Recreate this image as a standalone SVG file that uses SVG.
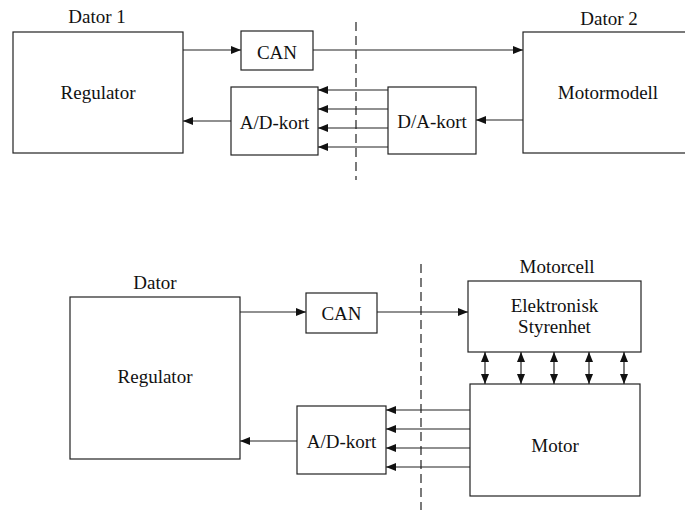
<svg xmlns="http://www.w3.org/2000/svg" width="685" height="510" viewBox="0 0 685 510">
<style>
.box{fill:#fff;stroke:#222;stroke-width:1.2}
.ln{stroke:#222;stroke-width:1.2;fill:none}
.dash{stroke:#222;stroke-width:1.2;stroke-dasharray:9,5;fill:none}
text{font-family:"Liberation Serif","Times New Roman",serif;font-size:19px;fill:#111;text-anchor:middle}
</style>
<defs>
<marker id="ah" markerWidth="10" markerHeight="8" refX="10" refY="4" orient="auto" markerUnits="userSpaceOnUse"><path d="M0,0 L10,4 L0,8 z" fill="#111"/></marker>
<marker id="as" markerWidth="10" markerHeight="8" refX="0" refY="4" orient="auto" markerUnits="userSpaceOnUse"><path d="M10,0 L0,4 L10,8 z" fill="#111"/></marker>
</defs>
<g id="connectors">
<line class="ln" x1="183" y1="50" x2="241" y2="50" marker-end="url(#ah)"/>
<line class="ln" x1="313" y1="50" x2="523" y2="50" marker-end="url(#ah)"/>
<line class="ln" x1="231" y1="121" x2="183" y2="121" marker-end="url(#ah)"/>
<line class="ln" x1="523" y1="120" x2="476" y2="120" marker-end="url(#ah)"/>
<line class="ln" x1="388" y1="90" x2="318" y2="90" marker-end="url(#ah)"/>
<line class="ln" x1="388" y1="109" x2="318" y2="109" marker-end="url(#ah)"/>
<line class="ln" x1="388" y1="128" x2="318" y2="128" marker-end="url(#ah)"/>
<line class="ln" x1="388" y1="147" x2="318" y2="147" marker-end="url(#ah)"/>
<line class="dash" x1="356" y1="22" x2="356" y2="180"/>
<line class="ln" x1="240" y1="312" x2="306" y2="312" marker-end="url(#ah)"/>
<line class="ln" x1="377" y1="312" x2="468" y2="312" marker-end="url(#ah)"/>
<line class="ln" x1="297" y1="441" x2="240" y2="441" marker-end="url(#ah)"/>
<line class="ln" x1="470" y1="410" x2="386" y2="410" marker-end="url(#ah)"/>
<line class="ln" x1="470" y1="429" x2="386" y2="429" marker-end="url(#ah)"/>
<line class="ln" x1="470" y1="448" x2="386" y2="448" marker-end="url(#ah)"/>
<line class="ln" x1="470" y1="467" x2="386" y2="467" marker-end="url(#ah)"/>
<line class="ln" x1="485" y1="352" x2="485" y2="384" marker-start="url(#as)" marker-end="url(#ah)"/>
<line class="ln" x1="521" y1="352" x2="521" y2="384" marker-start="url(#as)" marker-end="url(#ah)"/>
<line class="ln" x1="554" y1="352" x2="554" y2="384" marker-start="url(#as)" marker-end="url(#ah)"/>
<line class="ln" x1="589" y1="352" x2="589" y2="384" marker-start="url(#as)" marker-end="url(#ah)"/>
<line class="ln" x1="624" y1="352" x2="624" y2="384" marker-start="url(#as)" marker-end="url(#ah)"/>
<line class="dash" x1="421" y1="264" x2="421" y2="510"/>
</g>
<g id="regulator1"><rect class="box" x="13" y="32" width="170" height="121"/><text x="98" y="99">Regulator</text><text x="97" y="23">Dator 1</text></g>
<g id="can1"><rect class="box" x="241" y="31" width="72" height="39"/><text x="277" y="59">CAN</text></g>
<g id="ad1"><rect class="box" x="231" y="87" width="87" height="68"/><text x="274.5" y="129">A/D-kort</text></g>
<g id="da1"><rect class="box" x="388" y="87" width="88" height="67"/><text x="432" y="128">D/A-kort</text></g>
<g id="motormodell"><rect class="box" x="523" y="32" width="170" height="121"/><text x="608" y="99">Motormodell</text><text x="609" y="25">Dator 2</text></g>
<g id="regulator2"><rect class="box" x="70" y="297" width="170" height="162"/><text x="155" y="383">Regulator</text><text x="155" y="289">Dator</text></g>
<g id="can2"><rect class="box" x="306" y="293" width="71" height="40"/><text x="341.5" y="320">CAN</text></g>
<g id="ad2"><rect class="box" x="297" y="406" width="89" height="68"/><text x="341.5" y="448">A/D-kort</text></g>
<g id="styrenhet"><rect class="box" x="468" y="281" width="173" height="71"/><text x="554.5" y="312">Elektronisk</text><text x="554.5" y="333">Styrenhet</text><text x="557" y="273">Motorcell</text></g>
<g id="motor"><rect class="box" x="470" y="384" width="170" height="112"/><text x="555" y="452">Motor</text></g>
</svg>
